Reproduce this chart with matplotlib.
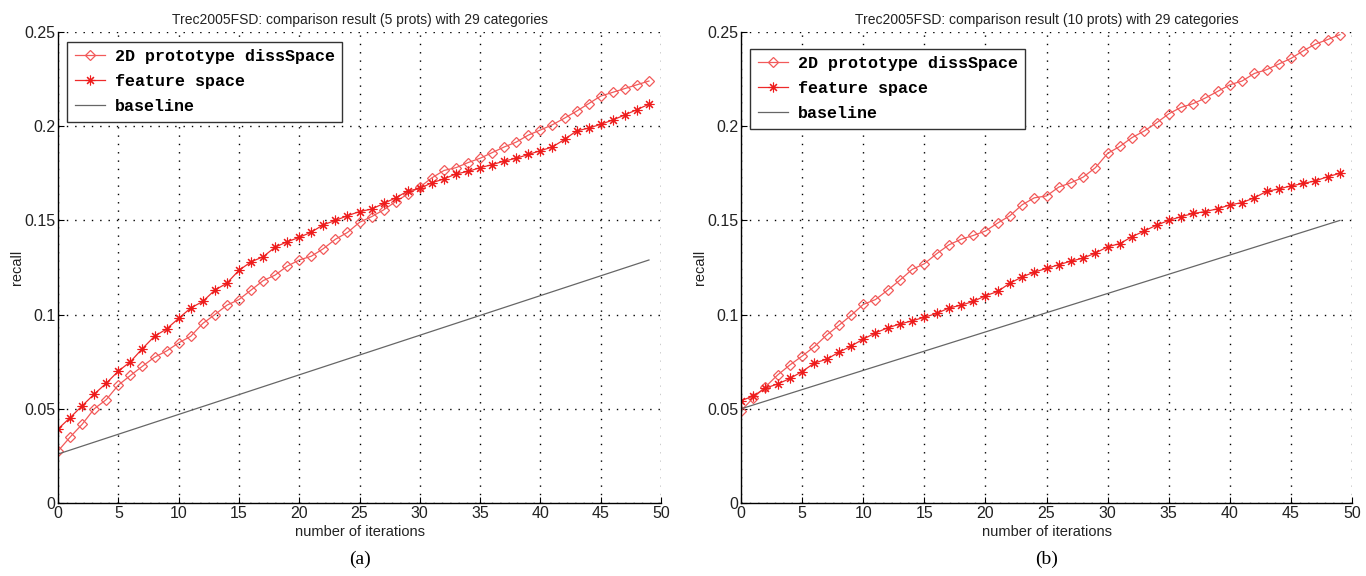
import numpy as np
import matplotlib.pyplot as plt

iters = np.arange(50)

# panel (a): 5 prototypes
diss_a = [0.0276, 0.035, 0.0418, 0.050, 0.0549, 0.0626, 0.0677, 0.0726, 0.0774, 0.0807,
          0.085, 0.0885, 0.0953, 0.100, 0.105, 0.108, 0.113, 0.118, 0.121, 0.1257,
          0.129, 0.131, 0.135, 0.140, 0.1436, 0.149, 0.152, 0.1556, 0.160, 0.164,
          0.1677, 0.1726, 0.1765, 0.178, 0.1807, 0.183, 0.186, 0.189, 0.1916, 0.1953,
          0.198, 0.2008, 0.2043, 0.208, 0.212, 0.216, 0.218, 0.220, 0.222, 0.224]
feat_a = [0.0393, 0.0453, 0.0516, 0.0578, 0.0636, 0.070, 0.075, 0.082, 0.0885, 0.0924,
          0.098, 0.1035, 0.107, 0.113, 0.1167, 0.1235, 0.128, 0.1307, 0.1358, 0.1387,
          0.141, 0.1438, 0.1477, 0.150, 0.1525, 0.1547, 0.156, 0.159, 0.162, 0.1656,
          0.167, 0.170, 0.172, 0.1747, 0.176, 0.178, 0.1796, 0.1815, 0.183, 0.185,
          0.187, 0.189, 0.193, 0.1975, 0.199, 0.201, 0.2033, 0.206, 0.2088, 0.2117]
base_x_a = [0, 49]
base_a = [0.026, 0.129]

# panel (b): 10 prototypes
diss_b = [0.049, 0.0558, 0.0617, 0.068, 0.0733, 0.078, 0.083, 0.0891, 0.0943, 0.0996,
          0.1054, 0.108, 0.113, 0.1183, 0.124, 0.127, 0.1323, 0.137, 0.140, 0.142,
          0.1444, 0.1486, 0.1525, 0.1583, 0.162, 0.163, 0.1677, 0.170, 0.173, 0.178,
          0.1856, 0.1893, 0.194, 0.1975, 0.2018, 0.2066, 0.210, 0.212, 0.215, 0.2185,
          0.222, 0.224, 0.228, 0.230, 0.233, 0.236, 0.240, 0.2436, 0.246, 0.2486]
feat_b = [0.0543, 0.0568, 0.061, 0.0632, 0.0661, 0.0698, 0.0743, 0.0763, 0.080, 0.0833,
          0.087, 0.0903, 0.093, 0.095, 0.0967, 0.0986, 0.1006, 0.1035, 0.105, 0.107,
          0.110, 0.1123, 0.1167, 0.120, 0.1226, 0.1245, 0.1265, 0.1284, 0.130, 0.1327,
          0.136, 0.1377, 0.1414, 0.1444, 0.1475, 0.150, 0.152, 0.1537, 0.1547, 0.1562,
          0.1582, 0.1595, 0.162, 0.1654, 0.1667, 0.1683, 0.1696, 0.171, 0.1732, 0.175]
base_x_b = [0, 49]
base_b = [0.050, 0.150]

titles = ["Trec2005FSD: comparison result (5 prots) with 29 categories",
          "Trec2005FSD: comparison result (10 prots) with 29 categories"]
xticks = [0, 5, 10, 15, 20, 25, 30, 35, 40, 45, 50]
yticks = [0, 0.05, 0.1, 0.15, 0.2, 0.25]
ytick_labels = ["0", "0.05", "0.1", "0.15", "0.2", "0.25"]
captions = ["(a)", "(b)"]

plt.rcParams['font.family'] = ['Liberation Sans', 'DejaVu Sans']

fig = plt.figure(figsize=(13.66, 5.76), dpi=100)
ax_a = fig.add_axes([0.0425, 0.1267, 0.4414, 0.8177])
ax_b = fig.add_axes([0.5425, 0.1267, 0.4473, 0.8177])

# legend anchors (axes fraction), picked to sit where the originals are
panels = [(ax_a, diss_a, feat_a, base_x_a, base_a, (0.007, 0.99)),
          (ax_b, diss_b, feat_b, base_x_b, base_b, (0.007, 0.975))]

for k, (ax, diss, feat, bx, base, anchor) in enumerate(panels):
    ax.plot(iters, diss, color='#f25a5a', lw=0.9, marker='D', markersize=5.5,
            markerfacecolor='none', markeredgecolor='#f25a5a', markeredgewidth=0.9,
            label="2D prototype dissSpace")
    ax.plot(iters, feat, color='#ee2a2a', lw=0.9, marker=(8, 2, 0), markersize=7,
            markeredgecolor='#ee1c1c', markeredgewidth=0.8, label="feature space")
    ax.plot(bx, base, color='#666666', lw=0.9, label="baseline")

    ax.set_xlim(0, 50)
    ax.set_ylim(0, 0.25)
    ax.set_xticks(xticks)
    ax.set_yticks(yticks)
    ax.set_yticklabels(ytick_labels)
    ax.tick_params(direction='in', length=4, labelsize=11.5, width=0.8, pad=2,
                   top=False, right=False, labelcolor='#222222')
    ax.grid(True, color='black', linestyle=(0, (1, 5)), lw=1.0)
    for s in ['top', 'right']:
        ax.spines[s].set_visible(False)
    for s in ['left', 'bottom']:
        ax.spines[s].set_linewidth(1.0)
    ax.set_title(titles[k], fontsize=10, pad=6, color='#222222')
    ax.set_xlabel("number of iterations", fontsize=10.5, labelpad=3, color='#222222')
    ax.set_ylabel("recall", fontsize=10.5, labelpad=0, color='#222222')
    leg = ax.legend(loc='upper left', bbox_to_anchor=anchor,
                    prop={'family': 'Liberation Mono', 'weight': 'bold', 'size': 12},
                    fancybox=False, framealpha=1, edgecolor='#333333',
                    handlelength=1.8, handletextpad=0.6, borderpad=0.45,
                    labelspacing=0.6, borderaxespad=0.3)
    leg.get_frame().set_linewidth(1.0)
    ax.text(0.5, -0.12, captions[k], transform=ax.transAxes, ha='center', va='center',
            fontsize=14, family='Liberation Serif')

fig.savefig("out.png", dpi=100)
